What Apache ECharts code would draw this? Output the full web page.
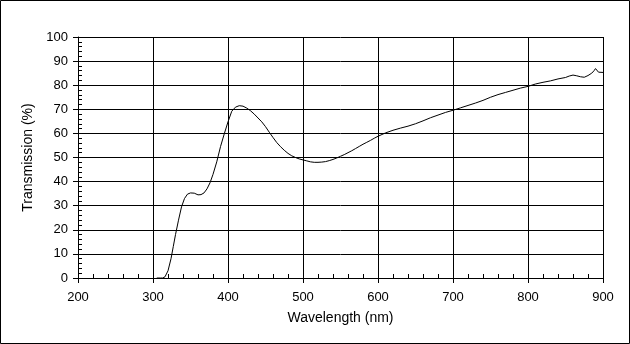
<!DOCTYPE html>
<html><head><meta charset="utf-8">
<script src="https://cdn.jsdelivr.net/npm/echarts@6/dist/echarts.min.js"></script>
<style>html,body{margin:0;padding:0;background:#fff}#c{width:630px;height:344px}</style>
</head><body><div id="c"></div>
<script>
const wavelengths = [305,310,313,316,320,324,327,330,334,338,342,346,350,355,360,364,368,372,376,380,385,390,395,400,405,410,415,420,425,430,435,440,445,450,455,460,465,470,475,480,485,490,495,500,505,510,515,520,525,530,535,540,545,550,555,560,565,570,575,580,585,590,595,600,610,620,630,640,650,660,670,680,690,700,710,720,730,740,750,760,770,780,790,800,810,820,830,840,850,855,860,865,870,875,880,885,888,890,892,894,900];
const transmission = [0,0,0,0.5,3,8,13,18,24,29.5,33,34.8,35.3,35.2,34.5,34.6,35.3,37,39.5,43,48.2,54.5,59.8,64.8,69.2,70.9,71.5,71.3,70.5,69.4,68,66.4,64.8,62.8,60.5,58.3,56.2,54.5,53,51.7,50.7,50,49.4,49,48.6,48.2,48,48,48.1,48.3,48.7,49.2,49.8,50.5,51.2,52,52.8,53.7,54.6,55.5,56.3,57.1,58,58.8,60.2,61.3,62.2,63,64,65.2,66.5,67.6,68.7,69.6,70.6,71.6,72.6,73.7,75,76.1,77,77.9,78.8,79.5,80.5,81.2,81.8,82.6,83.2,83.8,84.2,83.9,83.5,83.3,84,85,86,86.9,86.2,85.4,85.3];
const xTicks = {min:200, max:900, step:100};
const yTicks = {min:0, max:100, step:10};
const xName = 'Wavelength (nm)';
const yName = 'Transmission (%)';

const font = 'Liberation Sans, Arial, sans-serif';
const chart = echarts.init(document.getElementById('c'), null, {renderer:'canvas'});
const axisCommon = {
  axisLine:{show:true, lineStyle:{color:'#000', width:1}},
  axisTick:{show:true, inside:false, length:5, lineStyle:{color:'#000'}},
  minorTick:{show:true, splitNumber:5, length:-4, lineStyle:{color:'#000'}},
  splitLine:{show:true, lineStyle:{color:'#000', width:1}},
  axisLabel:{color:'#000', fontSize:13, fontFamily:font},
  nameTextStyle:{color:'#000', fontSize:14, fontFamily:font},
  nameLocation:'middle'
};
chart.setOption({
  animation:false,
  backgroundColor:'#fff',
  grid:{left:78, right:27, top:37, bottom:66, containLabel:false},
  xAxis:Object.assign({}, axisCommon, {type:'value', min:xTicks.min, max:xTicks.max, interval:xTicks.step, name:xName, nameGap:33,
    axisLabel:Object.assign({}, axisCommon.axisLabel, {margin:13})}),
  yAxis:Object.assign({}, axisCommon, {type:'value', min:yTicks.min, max:yTicks.max, interval:yTicks.step, name:yName, nameGap:38,
    axisLabel:Object.assign({}, axisCommon.axisLabel, {margin:10})}),
  graphic:[{type:'rect', shape:{x:0.5,y:0.5,width:629,height:343}, style:{fill:'none', stroke:'#000', lineWidth:1}, silent:true}],
  series:[{type:'line', data:wavelengths.map((w,i)=>[w, transmission[i]]), showSymbol:false, smooth:false,
    lineStyle:{color:'#000', width:1}, itemStyle:{color:'#000'}}]
});
</script></body></html>
